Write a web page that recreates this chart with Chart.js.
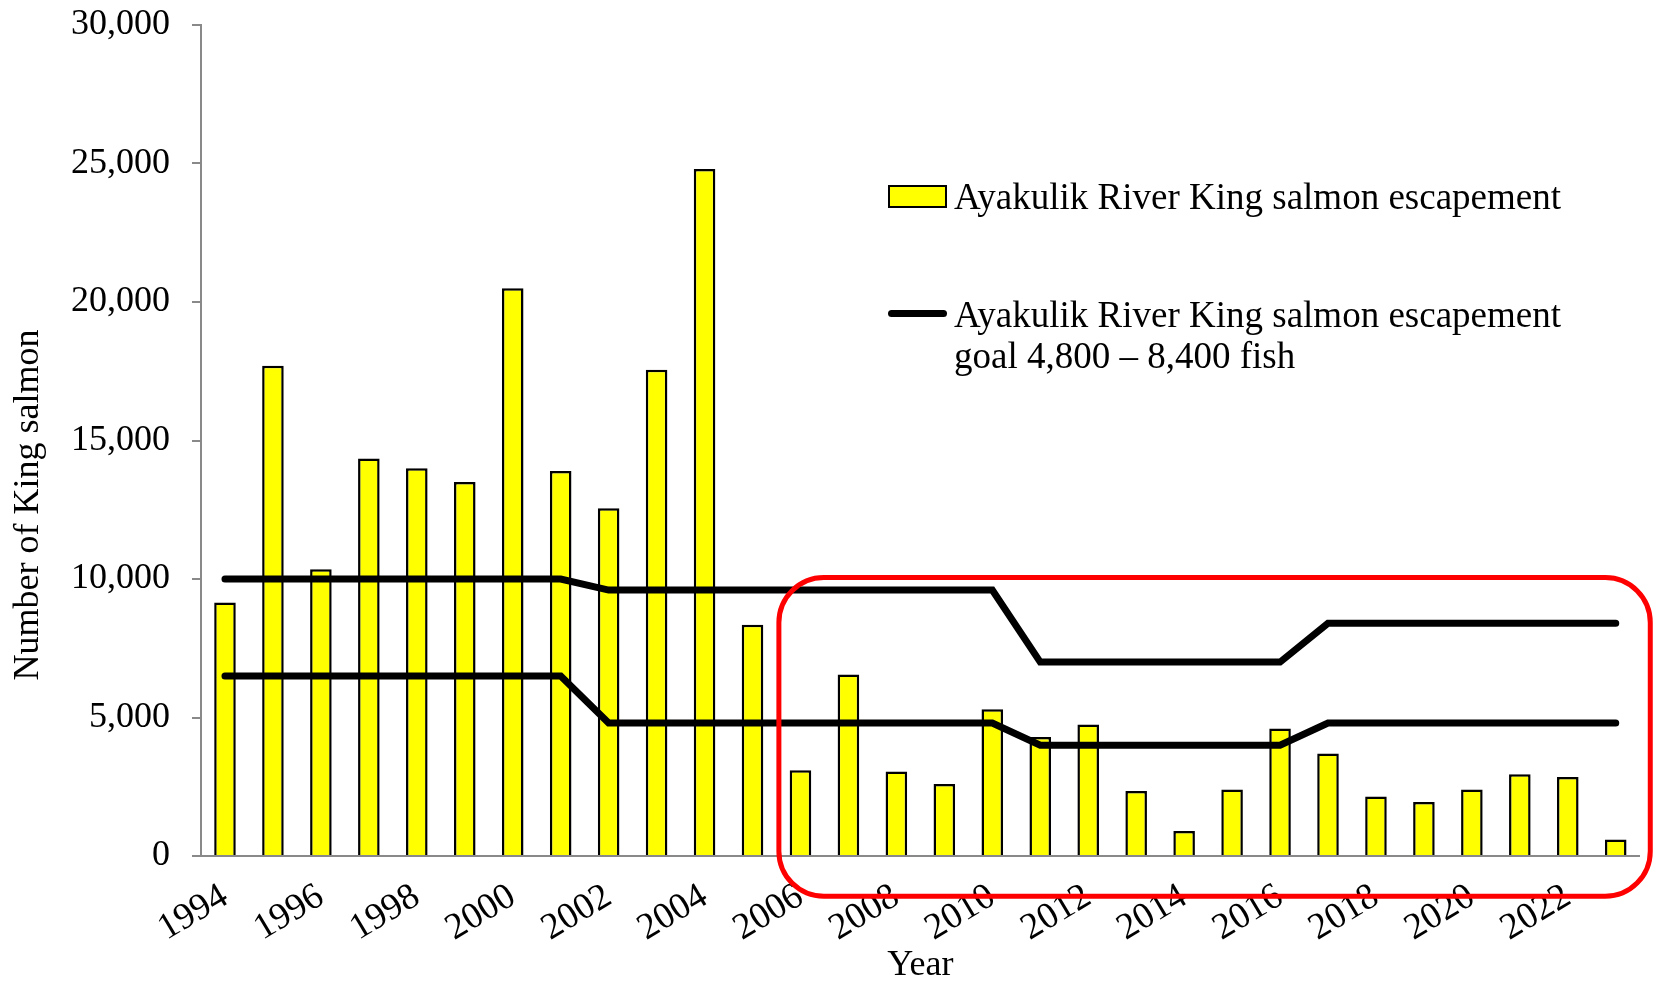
<!DOCTYPE html>
<html>
<head>
<meta charset="utf-8">
<title>Ayakulik River King salmon escapement</title>
<script src="https://cdn.jsdelivr.net/npm/chart.js@4.4.1/dist/chart.umd.min.js"></script>
<style>
  html, body { margin: 0; padding: 0; background: #fff; }
  #wrap { position: relative; width: 1657px; height: 981px; }
  #legend div { position: absolute; font-family: 'Liberation Serif', 'Times New Roman', serif; font-size: 37px; line-height: 41px; color: #000; }
</style>
</head>
<body>
<div id="wrap">
  <canvas id="salmonChart"></canvas>
  <div id="legend"></div>
</div>
<script>
const years = ['1994','1995','1996','1997','1998','1999','2000','2001','2002','2003',
               '2004','2005','2006','2007','2008','2009','2010','2011','2012','2013',
               '2014','2015','2016','2017','2018','2019','2020','2021','2022','2023'];

const escapement = [9150, 17700, 10350, 14350, 14000, 13500, 20500, 13900, 12550, 17550,
                    24800, 8350, 3100, 6550, 3050, 2600, 5300, 4300, 4750, 2350,
                    900, 2400, 4600, 3700, 2150, 1950, 2400, 2950, 2850, 600];

// escapement goal range (upper / lower bound)
const goalUpper = [10000, 10000, 10000, 10000, 10000, 10000, 10000, 10000, 9600, 9600,
                   9600, 9600, 9600, 9600, 9600, 9600, 9600, 7000, 7000, 7000,
                   7000, 7000, 7000, 8400, 8400, 8400, 8400, 8400, 8400, 8400];
const goalLower = [6500, 6500, 6500, 6500, 6500, 6500, 6500, 6500, 4800, 4800,
                   4800, 4800, 4800, 4800, 4800, 4800, 4800, 4000, 4000, 4000,
                   4000, 4000, 4000, 4800, 4800, 4800, 4800, 4800, 4800, 4800];

const xTickLabels = ['1994','','1996','','1998','','2000','','2002','',
                     '2004','','2006','','2008','','2010','','2012','',
                     '2014','','2016','','2018','','2020','','2022',''];

const seriesLabels = ['Ayakulik River King salmon escapement',
                      'Ayakulik River King salmon escapement goal 4,800 \u2013 8,400 fish'];

// red box around recent years (category index / axis values)
const highlightBox = { fromIndex: 11.55, toIndex: 29.72, top: 10050, bottom: -1450 };

const serif = "'Liberation Serif', 'Times New Roman', serif";
const axisGrey = '#898989';

const highlightPlugin = {
  id: 'highlight',
  afterDraw(chart) {
    const ctx = chart.ctx;
    const x = chart.scales.x, y = chart.scales.y;
    const left = x.getPixelForValue(highlightBox.fromIndex);
    const right = x.getPixelForValue(highlightBox.toIndex);
    const top = y.getPixelForValue(highlightBox.top);
    const bottom = y.getPixelForValue(highlightBox.bottom);
    ctx.save();
    ctx.strokeStyle = '#FF0000';
    ctx.lineWidth = 5;
    ctx.beginPath();
    ctx.roundRect(left, top, right - left, bottom - top, 45);
    ctx.stroke();
    ctx.restore();
  }
};

const yTitlePlugin = {
  id: 'yTitle',
  afterDraw(chart) {
    const ctx = chart.ctx;
    ctx.save();
    ctx.translate(29, 505);
    ctx.rotate(-Math.PI / 2);
    ctx.font = '36px ' + serif;
    ctx.fillStyle = '#000';
    ctx.textAlign = 'center';
    ctx.textBaseline = 'middle';
    ctx.fillText('Number of King salmon', 0, 0);
    ctx.restore();
  }
};

const chart = new Chart(document.getElementById('salmonChart'), {
  data: {
    labels: years,
    datasets: [
      {
        type: 'line',
        label: seriesLabels[1],
        data: goalUpper,
        borderColor: '#000',
        borderWidth: 7,
        pointRadius: 0,
        borderCapStyle: 'round',
        order: 1
      },
      {
        type: 'line',
        label: seriesLabels[1],
        data: goalLower,
        borderColor: '#000',
        borderWidth: 7,
        pointRadius: 0,
        borderCapStyle: 'round',
        order: 1
      },
      {
        type: 'bar',
        label: seriesLabels[0],
        data: escapement,
        backgroundColor: '#FFFF00',
        borderColor: '#000',
        borderWidth: 2.5,
        borderSkipped: 'bottom',
        categoryPercentage: 1,
        barPercentage: 0.45,
        order: 2
      }
    ]
  },
  options: {
    responsive: true,
    maintainAspectRatio: false,
    animation: false,
    layout: { padding: { top: 25, right: 12, bottom: 0, left: 0 } },
    plugins: {
      legend: { display: false },
      tooltip: { enabled: false }
    },
    scales: {
      x: {
        offset: true,
        grid: { display: false, drawTicks: false },
        border: { display: true, color: axisGrey, width: 2 },
        ticks: {
          autoSkip: false,
          minRotation: 31,
          maxRotation: 31,
          padding: 22,
          color: '#000',
          font: { family: serif, size: 37, lineHeight: 1 },
          callback: (value, index) => xTickLabels[index]
        },
        title: {
          display: true,
          text: 'Year',
          color: '#000',
          padding: 0,
          font: { family: serif, size: 36, lineHeight: 0.85 }
        },
        afterFit: (scale) => { scale.height = 125; scale.paddingTop = 0; }
      },
      y: {
        min: 0,
        max: 30000,
        grid: { drawOnChartArea: false, drawTicks: true, tickLength: 9, color: axisGrey, lineWidth: 2 },
        border: { display: true, color: axisGrey, width: 2 },
        ticks: {
          stepSize: 5000,
          padding: 22,
          color: '#000',
          font: { family: serif, size: 36, lineHeight: 1 },
          callback: (v) => v.toLocaleString('en-US')
        },
        afterFit: (scale) => { scale.width = 201; scale.paddingTop = 0; scale.paddingBottom = 0; }
      }
    }
  },
  plugins: [highlightPlugin, yTitlePlugin]
});

// legend inside the plot, top right
function buildLegend() {
  const legend = document.getElementById('legend');
  const items = [
    { text: seriesLabels[0], swatch: 'box', top: 176 },
    { text: seriesLabels[1], swatch: 'line', top: 294 }
  ];
  items.forEach(function(item) {
    const sw = document.createElement('div');
    if (item.swatch === 'box') {
      sw.style.cssText = 'left:888px;top:' + (item.top + 9) + 'px;width:55px;height:19px;background:#FFFF00;border:2px solid #000;';
    } else {
      sw.style.cssText = 'left:888px;top:' + (item.top + 16) + 'px;width:59px;height:7px;background:#000;border-radius:3.5px;';
    }
    legend.appendChild(sw);
    const label = document.createElement('div');
    label.textContent = item.text;
    label.style.left = '954px';
    label.style.top = item.top + 'px';
    label.style.width = '650px';
    legend.appendChild(label);
  });
}
buildLegend();
</script>
</body>
</html>
